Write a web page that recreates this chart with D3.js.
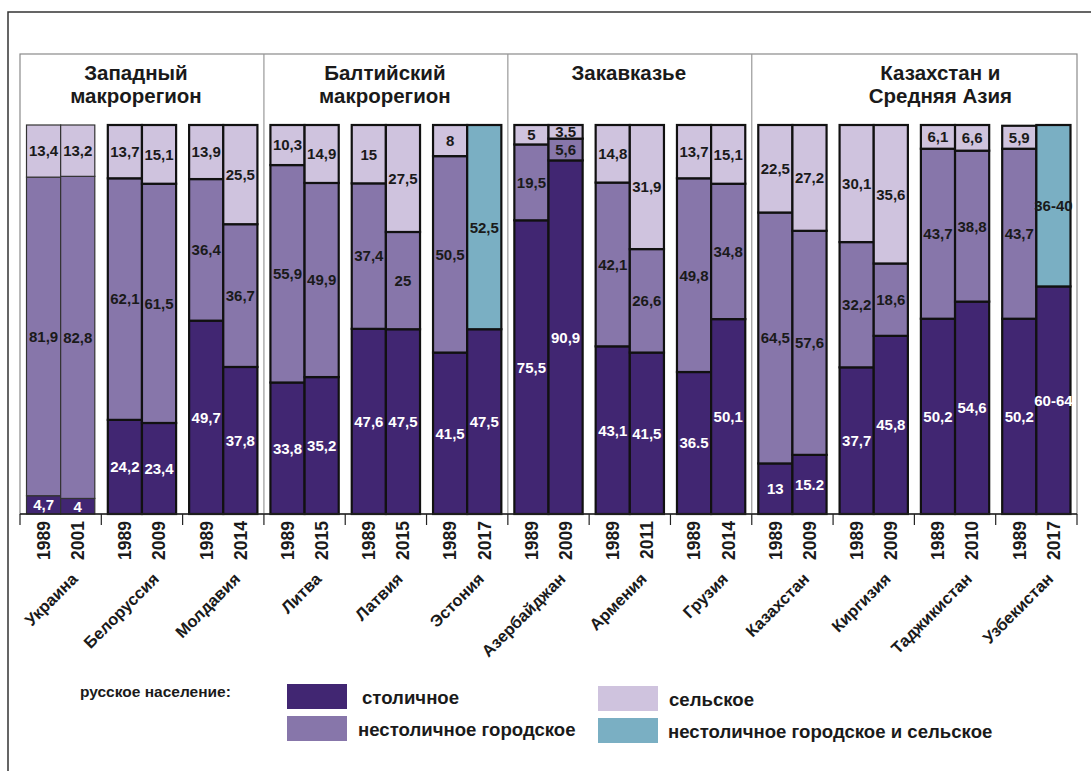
<!DOCTYPE html>
<html>
<head>
<meta charset="utf-8">
<script src="https://cdn.jsdelivr.net/npm/d3@7"></script>
<style>
  body { margin: 0; background: #fff; }
  svg { font-family: "Liberation Sans", Arial, sans-serif; }
</style>
</head>
<body>
<svg id="chart" width="1091" height="771"></svg>
<script>
// countries, years and shares of russian population (%)
const countries = ["Украина", "Белоруссия", "Молдавия", "Литва", "Латвия", "Эстония",
  "Азербайджан", "Армения", "Грузия", "Казахстан", "Киргизия", "Таджикистан", "Узбекистан"];
const years = [["1989","2001"],["1989","2009"],["1989","2014"],["1989","2015"],["1989","2015"],["1989","2017"],
  ["1989","2009"],["1989","2011"],["1989","2014"],["1989","2009"],["1989","2009"],["1989","2010"],["1989","2017"]];

// столичное
const capital = [[4.7,4],[24.2,23.4],[49.7,37.8],[33.8,35.2],[47.6,47.5],[41.5,47.5],
  [75.5,90.9],[43.1,41.5],[36.5,50.1],[13,15.2],[37.7,45.8],[50.2,54.6],[50.2,58.5]];
// нестоличное городское
const nonCapital = [[81.9,82.8],[62.1,61.5],[36.4,36.7],[55.9,49.9],[37.4,25],[50.5,null],
  [19.5,5.6],[42.1,26.6],[49.8,34.8],[64.5,57.6],[32.2,18.6],[43.7,38.8],[43.7,null]];
// сельское
const rural = [[13.4,13.2],[13.7,15.1],[13.9,25.5],[10.3,14.9],[15,27.5],[8,null],
  [5,3.5],[14.8,31.9],[13.7,15.1],[22.5,27.2],[30.1,35.6],[6.1,6.6],[5.9,null]];
// нестоличное городское и сельское
const combined = [[null,null],[null,null],[null,null],[null,null],[null,null],[null,52.5],
  [null,null],[null,null],[null,null],[null,null],[null,null],[null,null],[null,41.5]];

// labels that are written differently in the source
const labelOverrides = [
  { c: 8, y: 0, s: "capital", text: "36.5" },
  { c: 9, y: 1, s: "capital", text: "15.2" },
  { c: 12, y: 1, s: "capital", text: "60-64" },
  { c: 12, y: 1, s: "combined", text: "36-40" }
];

const groups = [
  { lines: ["Западный", "макрорегион"], first: 0, last: 2, shift: -6 },
  { lines: ["Балтийский", "макрорегион"], first: 3, last: 5, shift: -1 },
  { lines: ["Закавказье"], first: 6, last: 8, shift: -1 },
  { lines: ["Казахстан и", "Средняя Азия"], first: 9, last: 12, shift: 26 }
];

const seriesKeys = ["capital", "nonCapital", "rural", "combined"];
const seriesData = { capital, nonCapital, rural, combined };
const seriesNames = {
  capital: "столичное", nonCapital: "нестоличное городское",
  rural: "сельское", combined: "нестоличное городское и сельское"
};
const colors = { capital: "#412672", nonCapital: "#8776aa", rural: "#cfc3de", combined: "#7aafc3" };
const textColors = { capital: "#ffffff", nonCapital: "#1a1a1a", rural: "#1a1a1a", combined: "#1a1a1a" };

const svg = d3.select("#chart");

const panel = { left: 20, right: 1077, top: 54, bottom: 514 };
const barTop = 125;

const x = d3.scaleBand()
  .domain(countries)
  .range([panel.left, panel.right])
  .paddingInner(0.16)
  .paddingOuter(0.08);
const xInner = d3.scaleBand().domain([0, 1]).range([0, x.bandwidth()]);
const y = d3.scaleLinear().domain([0, 100]).range([panel.bottom, barTop]);

const ruLocale = d3.formatLocale({ decimal: ",", thousands: " ", grouping: [3], currency: ["", ""] });
const fmt = v => ruLocale.format("~g")(v);

// outer frame
svg.append("path")
  .attr("d", "M8,771V12H1091")
  .attr("fill", "none")
  .attr("stroke", "#333")
  .attr("stroke-width", 1.5);

// panel box
svg.append("rect")
  .attr("x", panel.left).attr("y", panel.top)
  .attr("width", panel.right - panel.left).attr("height", panel.bottom - panel.top)
  .attr("fill", "none").attr("stroke", "#8a8a8a").attr("stroke-width", 1.2);

const slot = x.step();
const slotEdge = i => panel.left + i * slot;

// group separators
groups.slice(1).forEach(g => {
  svg.append("line")
    .attr("x1", slotEdge(g.first)).attr("x2", slotEdge(g.first))
    .attr("y1", panel.top).attr("y2", panel.bottom)
    .attr("stroke", "#999").attr("stroke-width", 1.2);
});

// group titles
groups.forEach(g => {
  const cx = (slotEdge(g.first) + slotEdge(g.last + 1)) / 2 + g.shift;
  const t = svg.append("text")
    .attr("text-anchor", "middle")
    .attr("font-size", 20.5).attr("font-weight", "bold").attr("fill", "#1a1a1a");
  g.lines.forEach((line, i) => {
    t.append("tspan").attr("x", cx).attr("y", 80 + i * 23).text(line);
  });
});

// build stacked segments
const segments = [];
countries.forEach((c, ci) => {
  [0, 1].forEach(yi => {
    let base = 0;
    seriesKeys.forEach(s => {
      const v = seriesData[s][ci][yi];
      if (v == null) return;
      const ov = labelOverrides.find(o => o.c === ci && o.y === yi && o.s === s);
      segments.push({ country: c, ci, yi, series: s, y0: base, y1: base + v,
        label: ov ? ov.text : fmt(v) });
      base += v;
    });
  });
});

const bars = svg.append("g");
bars.selectAll("rect")
  .data(segments)
  .enter().append("rect")
    .attr("x", d => x(d.country) + xInner(d.yi))
    .attr("y", d => y(d.y1))
    .attr("width", xInner.bandwidth())
    .attr("height", d => y(d.y0) - y(d.y1))
    .attr("fill", d => colors[d.series])
    .attr("stroke", d => d.ci === 0 ? "#333" : "#111")
    .attr("stroke-width", d => d.ci === 0 ? 1.2 : 2.2);

bars.selectAll("text")
  .data(segments)
  .enter().append("text")
    .attr("x", d => x(d.country) + xInner(d.yi) + xInner.bandwidth() / 2)
    .attr("y", d => (y(d.y0) + y(d.y1)) / 2)
    .attr("dy", "0.36em")
    .attr("text-anchor", "middle")
    .attr("font-size", 15).attr("font-weight", "bold")
    .attr("fill", d => textColors[d.series])
    .text(d => d.label);

// x axis line and ticks at country boundaries
svg.append("line")
  .attr("x1", panel.left).attr("x2", panel.right)
  .attr("y1", panel.bottom).attr("y2", panel.bottom)
  .attr("stroke", "#222").attr("stroke-width", 1.5);
svg.append("g").selectAll("line")
  .data(d3.range(countries.length + 1))
  .enter().append("line")
    .attr("x1", slotEdge).attr("x2", slotEdge)
    .attr("y1", panel.bottom).attr("y2", panel.bottom + 11)
    .attr("stroke", "#222").attr("stroke-width", 1.2);

// year labels
const yearData = [];
countries.forEach((c, ci) => years[ci].forEach((yr, yi) => yearData.push({ c, yi, yr })));
svg.append("g").selectAll("text")
  .data(yearData)
  .enter().append("text")
    .attr("transform", d => `translate(${x(d.c) + xInner(d.yi) + xInner.bandwidth() / 2},521) rotate(-90)`)
    .attr("dy", "0.36em")
    .attr("text-anchor", "end")
    .attr("font-size", 17.5).attr("font-weight", "bold").attr("fill", "#1a1a1a")
    .text(d => d.yr);

// country labels
svg.append("g").selectAll("text")
  .data(countries)
  .enter().append("text")
    .attr("transform", d => `translate(${x(d) + x.bandwidth() / 2 + 18},580) rotate(-45)`)
    .attr("text-anchor", "end")
    .attr("font-size", 16.5).attr("font-weight", "bold").attr("fill", "#1a1a1a")
    .text(d => d);

// legend
const legend = svg.append("g");
legend.append("text")
  .attr("x", 80).attr("y", 697)
  .attr("font-size", 15.5).attr("font-weight", "bold").attr("fill", "#1a1a1a")
  .text("русское население:");

const legendItems = [
  { s: "capital", x: 287, y: 684, tx: 362 },
  { s: "nonCapital", x: 287, y: 716, tx: 358 },
  { s: "rural", x: 598, y: 686, tx: 669 },
  { s: "combined", x: 598, y: 718, tx: 668 }
];
legendItems.forEach(it => {
  legend.append("rect")
    .attr("x", it.x).attr("y", it.y)
    .attr("width", 60).attr("height", 25)
    .attr("fill", colors[it.s]);
  legend.append("text")
    .attr("x", it.tx).attr("y", it.y + 13)
    .attr("dy", "0.36em")
    .attr("font-size", 18.6).attr("font-weight", "bold").attr("fill", "#1a1a1a")
    .text(seriesNames[it.s]);
});
</script>
</body>
</html>
